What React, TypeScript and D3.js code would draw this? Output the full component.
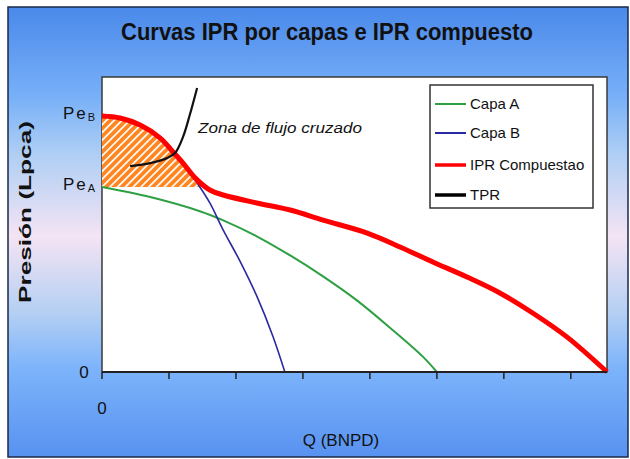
import React from "react";
import * as d3 from "d3";

// ---- data ----
const PE_B = 86.8;
const PE_A = 62.7;

const capaAQ = [0, 0.72, 1.46, 1.81, 2.31, 2.81, 3.3, 3.81, 4.3, 4.79, 5.0];
const capaAP = [62.7, 59.3, 54.5, 51.4, 46.0, 39.5, 32.4, 24.2, 15.0, 5.2, 0];

const capaBQ = [0, 0.27, 0.57, 0.87, 1.06, 1.24, 1.42, 1.61, 1.81, 2.06, 2.31, 2.55, 2.73];
const capaBP = [86.8, 86.1, 83.7, 79.7, 75.3, 70.2, 64.1, 57.3, 48.1, 37.6, 25.8, 12.2, 0];

const iprQ = [0, 0.27, 0.57, 0.87, 1.06, 1.21, 1.39, 1.61, 1.81, 2.31, 2.81, 3.3, 3.96, 4.45, 4.94, 5.45, 5.94, 6.43, 6.94, 7.54];
const iprP = [86.8, 86.1, 83.7, 79.3, 74.6, 70.8, 65.8, 61.7, 60.0, 57.3, 54.9, 51.5, 47.1, 42.4, 37.3, 32.2, 26.8, 20.0, 11.9, 0];

const tprQ = [0.42, 0.72, 0.97, 1.09, 1.21, 1.31, 1.42];
const tprP = [69.8, 70.8, 72.5, 74.2, 79.7, 87.1, 96.3];

const xTicks = [0, 1, 2, 3, 4, 5, 6, 7];
const xTickLabels = ["0", "", "", "", "", "", "", ""];

const legendLabels = ["Capa A", "Capa B", "IPR Compuestao", "TPR"];
const legendColors = ["#2ea043", "#2a2aa0", "#ff0000", "#000000"];
const legendWidths = [2, 2, 3.5, 3.5];

const title = "Curvas IPR por capas e IPR compuesto";
const yTitle = "Presión (Lpca)";
const xTitle = "Q (BNPD)";
const note = "Zona de flujo cruzado";

type Pt = [number, number];
const zip = (a: number[], b: number[]): Pt[] => a.map((v, i) => [v, b[i]]);

export default function App() {
  const W = 630;
  const H = 459;
  const L = 102, R = 607, T = 77, B = 372;
  const x = d3.scaleLinear().domain([0, 7.54]).range([L, R]);
  const y = d3.scaleLinear().domain([0, 100]).range([B, T]);

  const line = d3
    .line<Pt>()
    .x((d) => x(d[0]))
    .y((d) => y(d[1]))
    .curve(d3.curveCatmullRom.alpha(0.5));

  const area = d3
    .area<Pt>()
    .x((d) => x(d[0]))
    .y0(y(PE_A))
    .y1((d) => y(d[1]))
    .curve(d3.curveCatmullRom.alpha(0.5));

  const ipr = zip(iprQ, iprP);
  const capaA = zip(capaAQ, capaAP);
  const capaB = zip(capaBQ, capaBP);
  const tpr = zip(tprQ, tprP);

  const font = "'Liberation Sans', Arial, sans-serif";

  const legX = 430, legY = 85, legW = 163, legH = 123;
  const legRowY = [104, 133, 165, 195];

  return (
    <svg
      width={W}
      height={H}
      style={{ position: "absolute", left: 0, top: 0, display: "block" }}
    >
      <defs>
        <linearGradient id="bg" x1="0" y1="0" x2="0" y2="1">
          <stop offset="0" stopColor="#4a89ea" />
          <stop offset="0.2" stopColor="#78b0f8" />
          <stop offset="0.33" stopColor="#b0cff4" />
          <stop offset="0.51" stopColor="#f4e4f4" />
          <stop offset="0.68" stopColor="#b4cff3" />
          <stop offset="0.8" stopColor="#7db4fb" />
          <stop offset="1" stopColor="#5892f0" />
        </linearGradient>
        <pattern
          id="hatch"
          patternUnits="userSpaceOnUse"
          width="5.5"
          height="5.5"
          patternTransform="rotate(45)"
        >
          <rect width="5.5" height="5.5" fill="#ff8520" />
          <rect x="0" y="0" width="1.7" height="5.5" fill="#ffffff" />
        </pattern>
        <clipPath id="aboveA">
          <rect x={L} y={T} width={R - L} height={y(PE_A) - T} />
        </clipPath>
        <clipPath id="plotClip">
          <rect x={L} y={T - 20} width={R - L + 4} height={B - T + 24} />
        </clipPath>
      </defs>

      <rect x={0} y={0} width={W} height={H} fill="#ffffff" />
      <rect x={8} y={7} width={620} height={450} fill="url(#bg)" stroke="#1a2a4a" strokeWidth={1.5} />

      <text
        x={327}
        y={40}
        textAnchor="middle"
        fontFamily={font}
        fontWeight="bold"
        fontSize={23}
        textLength={412}
        lengthAdjust="spacingAndGlyphs"
        fill="#111"
      >
        {title}
      </text>

      {/* plot area */}
      <rect x={L} y={T} width={R - L} height={B - T} fill="#ffffff" stroke="#3a3a3a" strokeWidth={1.5} />

      {/* hatched zone */}
      <path d={area(ipr) || ""} fill="url(#hatch)" clipPath="url(#aboveA)" />

      <path d={line(capaA) || ""} fill="none" stroke="#2ea043" strokeWidth={2} />
      <path d={line(capaB) || ""} fill="none" stroke="#2a2aa0" strokeWidth={1.6} />
      <path d={line(ipr) || ""} fill="none" stroke="#ff0000" strokeWidth={5} clipPath="url(#plotClip)" />
      <path d={line(tpr) || ""} fill="none" stroke="#111" strokeWidth={2.2} />

      {/* x axis */}
      <line x1={L} x2={R} y1={B} y2={B} stroke="#222" strokeWidth={2} />
      {xTicks.map((t, i) => (
        <g key={t}>
          <line x1={x(t)} x2={x(t)} y1={B} y2={B + 7} stroke="#222" strokeWidth={1.5} />
          <text
            x={x(t)}
            y={414}
            textAnchor="middle"
            fontFamily={font}
            fontSize={17}
            fill="#111"
          >
            {xTickLabels[i]}
          </text>
        </g>
      ))}

      {/* y labels */}
      <text x={84} y={y(0) + 6} textAnchor="middle" fontFamily={font} fontSize={17} fill="#111">
        0
      </text>
      <text x={63} y={y(PE_A) + 3} fontFamily={font} fontSize={17} fill="#111" letterSpacing={2}>
        Pe
        <tspan fontSize={11} dy={2}>A</tspan>
      </text>
      <text x={63} y={y(PE_B) + 3} fontFamily={font} fontSize={17} fill="#111" letterSpacing={2}>
        Pe
        <tspan fontSize={11} dy={2}>B</tspan>
      </text>

      <text
        transform={`translate(31, 212) rotate(-90)`}
        textAnchor="middle"
        fontFamily={font}
        fontWeight="bold"
        fontSize={17}
        textLength={182}
        lengthAdjust="spacingAndGlyphs"
        fill="#111"
      >
        {yTitle}
      </text>

      <text
        x={341}
        y={446}
        textAnchor="middle"
        fontFamily={font}
        fontSize={17}
        fill="#111"
      >
        {xTitle}
      </text>

      <text
        x={198}
        y={133}
        fontFamily={font}
        fontStyle="italic"
        fontSize={15}
        textLength={164}
        lengthAdjust="spacingAndGlyphs"
        fill="#111"
      >
        {note}
      </text>

      {/* legend */}
      <rect x={legX} y={legY} width={legW} height={legH} fill="#ffffff" stroke="#333" strokeWidth={1.5} />
      {legendLabels.map((lab, i) => (
        <g key={lab}>
          <line
            x1={435}
            x2={466}
            y1={legRowY[i]}
            y2={legRowY[i]}
            stroke={legendColors[i]}
            strokeWidth={legendWidths[i]}
          />
          <text x={470} y={legRowY[i] + 5} fontFamily={font} fontSize={15} fill="#111">
            {lab}
          </text>
        </g>
      ))}
    </svg>
  );
}
